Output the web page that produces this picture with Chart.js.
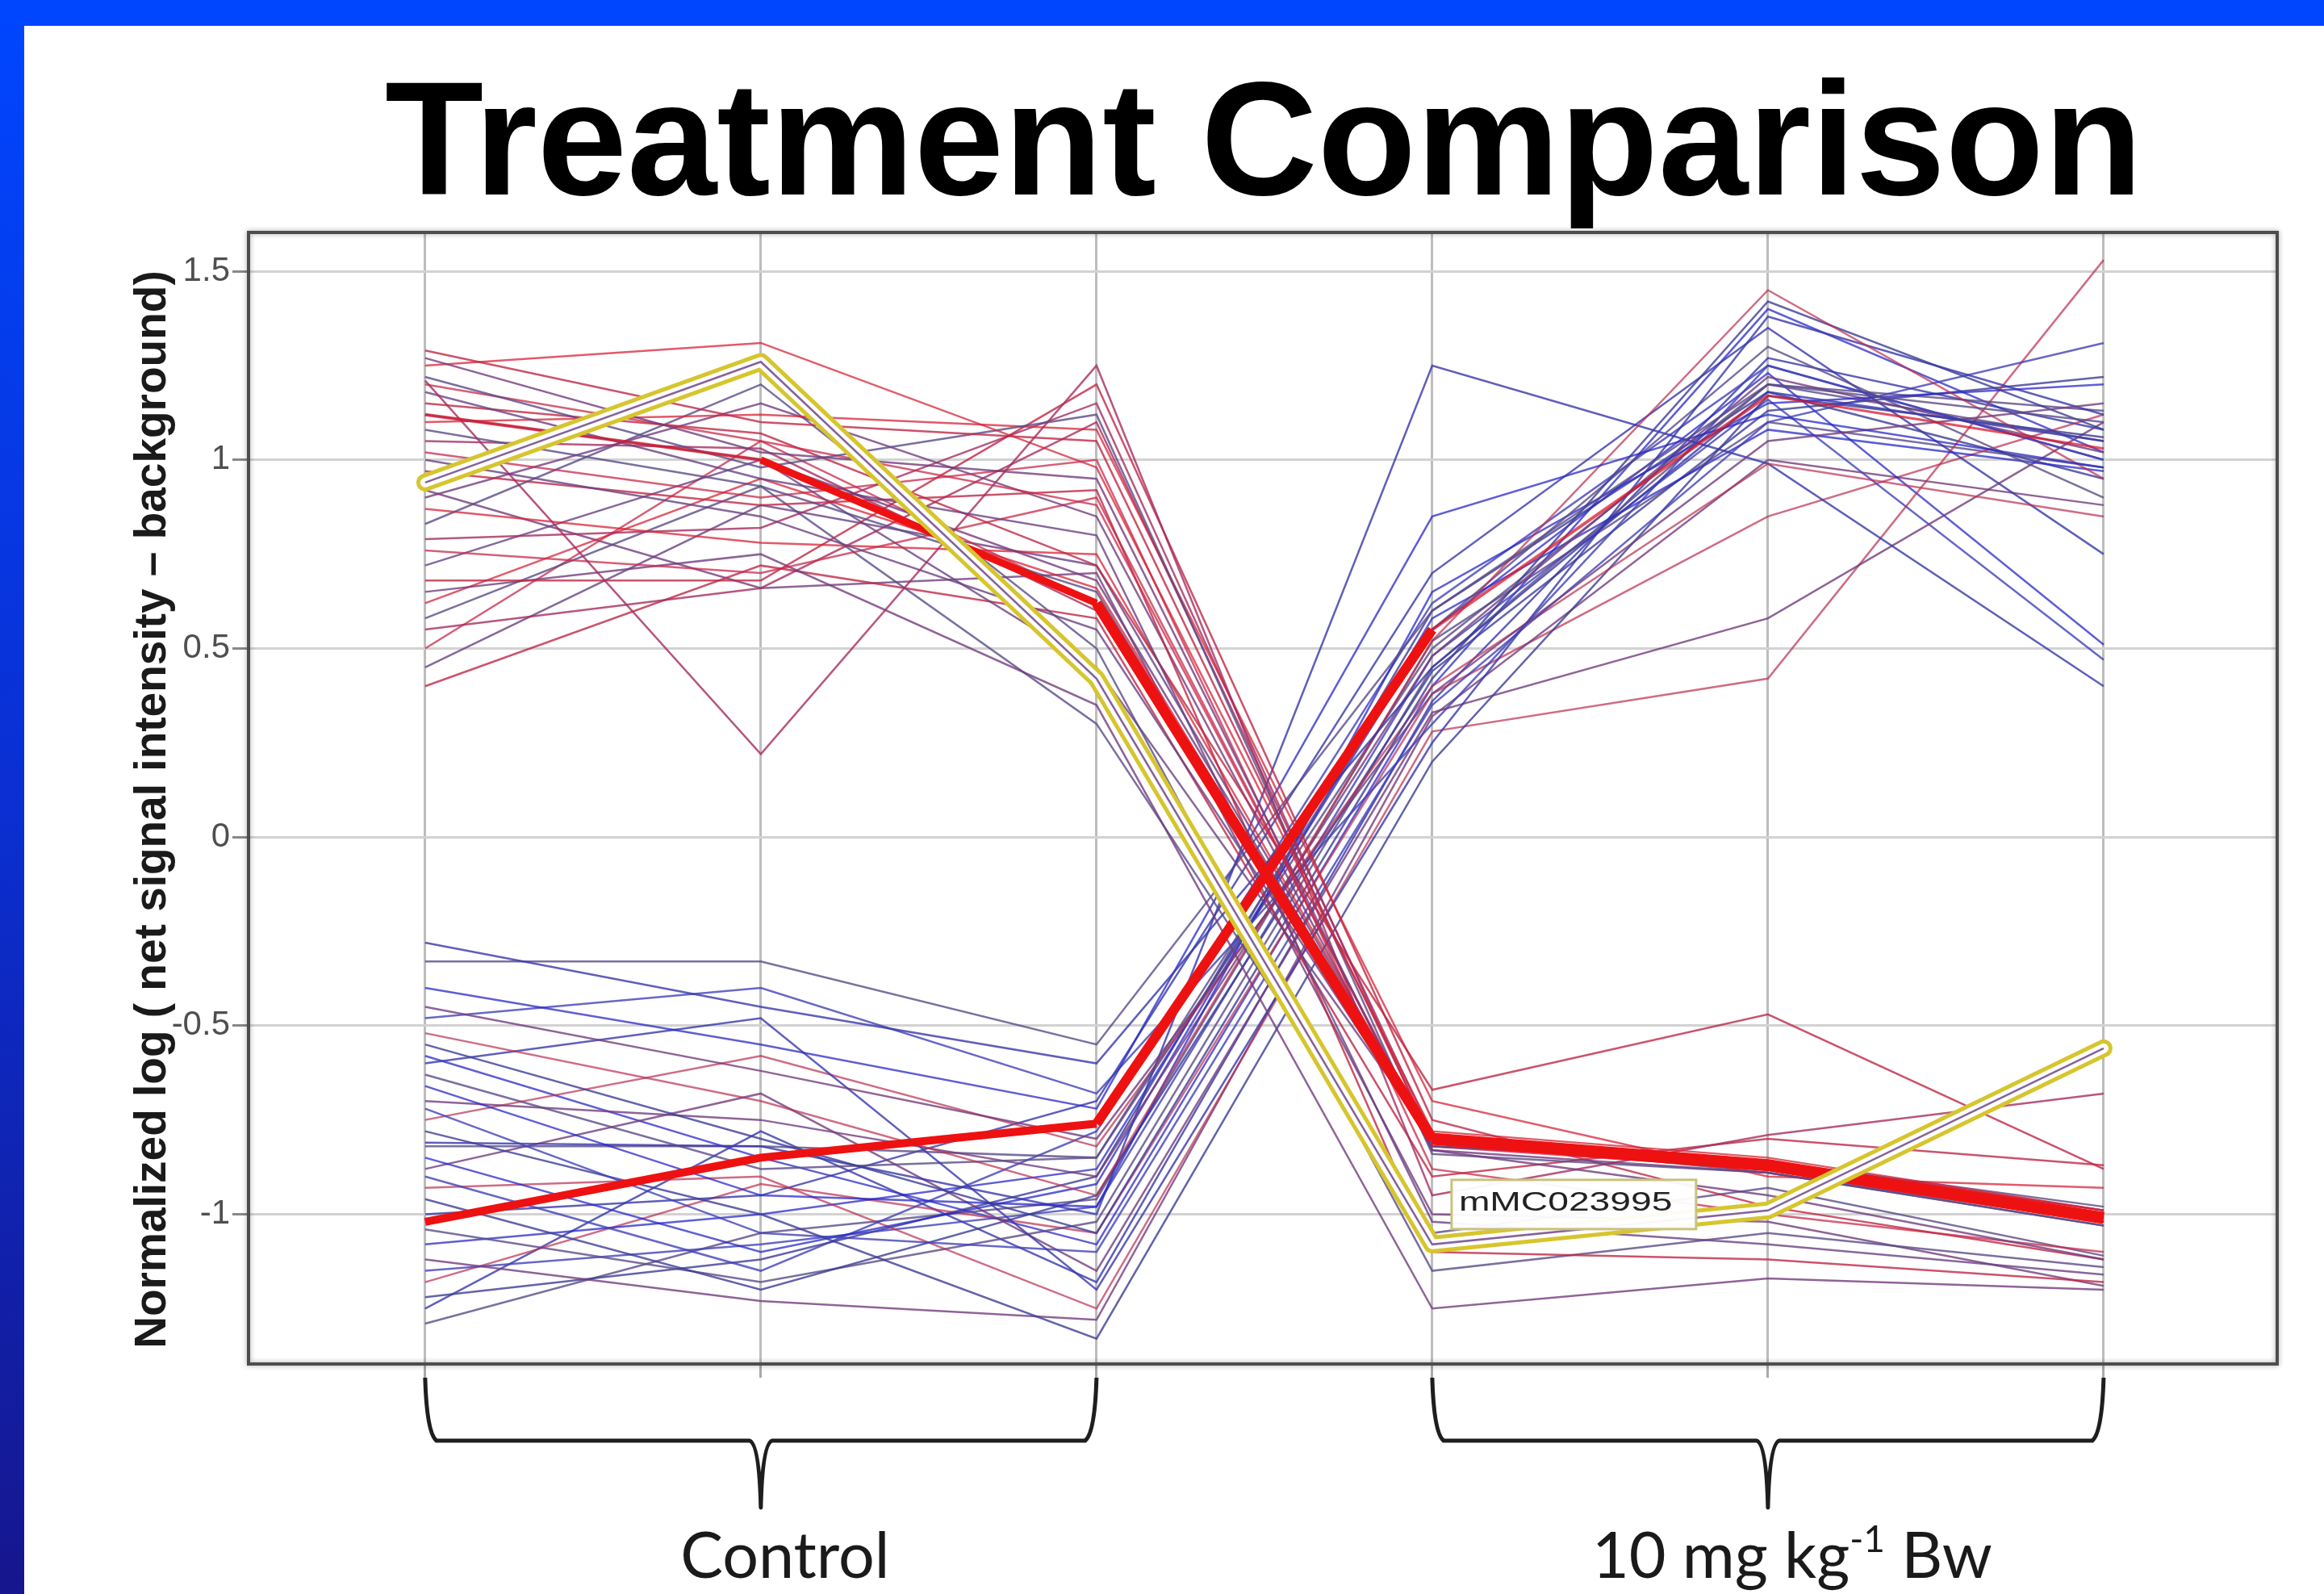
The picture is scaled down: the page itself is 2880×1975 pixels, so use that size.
<!DOCTYPE html>
<html>
<head>
<meta charset="utf-8">
<title>Treatment Comparison</title>
<script src="https://cdn.jsdelivr.net/npm/chart.js@4.4.1/dist/chart.umd.min.js"></script>
<style>
  html, body { margin: 0; padding: 0; background: #fff; }
  #wrap { position: relative; width: 2880px; height: 1975px; }
</style>
</head>
<body>
<div id="wrap"><canvas id="chart"></canvas></div>
<script>
// Expression profiles: normalized log signal for 3 control + 3 treated arrays.
// Values read off the slide by eye, so treat them as approximate.

const TITLE = 'Treatment Comparison';
const Y_TITLE = 'Normalized log ( net signal intensity \u2013 background)';
const SAMPLES = [1, 2, 3, 4, 5, 6];
const GROUPS = ['Control', '10 mg kg^-1 Bw'];
const GROUP_SPANS = [[1, 3], [4, 6]];
const Y_TICKS = [-1, -0.5, 0, 0.5, 1, 1.5];
const HIGHLIGHT_NAME = 'mMC023995';

// probes that drop in the treated group
const DOWN = [
  [1.29, 1.10, 1.05, -0.80, -0.87, -1.00],
  [1.27, 1.02, 0.95, -0.83, -0.95, -1.12],
  [1.25, 1.31, 0.98, -0.78, -0.85, -0.99],
  [1.22, 0.98, 1.12, -0.84, -0.89, -1.03],
  [1.21, 0.22, 1.25, -0.95, -0.79, -0.68],
  [1.20, 1.05, 0.88, -0.81, -0.86, -1.01],
  [1.18, 0.95, 0.80, -1.02, -1.08, -1.16],
  [1.15, 1.07, 0.72, -0.67, -0.47, -0.88],
  [1.12, 1.00, 0.68, -0.80, -0.87, -1.02],
  [1.10, 1.12, 1.08, -0.70, -0.90, -0.93],
  [1.08, 0.93, 0.65, -0.82, -0.86, -0.98],
  [1.05, 1.03, 0.60, -0.80, -0.88, -1.01],
  [1.02, 0.90, 1.00, -0.88, -1.00, -1.10],
  [1.00, 0.85, 0.55, -0.81, -0.87, -1.00],
  [0.97, 0.88, 0.92, -1.10, -1.12, -1.18],
  [0.90, 1.15, 0.85, -0.83, -0.89, -1.02],
  [0.87, 0.78, 0.75, -0.80, -0.86, -0.99],
  [0.83, 1.20, 0.50, -1.15, -1.05, -1.14],
  [0.79, 0.82, 1.15, -0.81, -0.88, -1.01],
  [0.76, 0.70, 0.90, -0.82, -0.87, -1.00],
  [0.72, 1.00, 0.45, -0.80, -0.89, -1.03],
  [0.68, 0.68, 1.20, -0.75, -0.98, -1.12],
  [0.65, 0.75, 0.35, -1.25, -1.17, -1.20],
  [0.62, 0.95, 0.66, -0.81, -0.86, -1.00],
  [0.58, 0.93, 0.30, -1.05, -0.93, -1.11],
  [0.55, 0.66, 1.10, -0.79, -0.87, -1.02],
  [0.50, 1.05, 0.62, -0.82, -0.88, -1.01],
  [0.45, 0.88, 0.72, -0.80, -0.86, -0.99],
  [0.40, 0.72, 0.58, -0.90, -0.80, -0.87],
  [0.92, 0.66, 0.70, -1.00, -1.02, -1.19],
];

// probes that rise in the treated group
const UP = [
  [-0.28, -0.45, -0.60, 0.45, 1.18, 1.05],
  [-0.33, -0.33, -0.55, 0.60, 1.20, 1.10],
  [-0.40, -0.55, -0.72, 0.85, 1.12, 0.98],
  [-0.45, -0.62, -0.80, 0.38, 1.05, 1.15],
  [-0.48, -0.40, -0.68, 0.30, 1.25, 1.00],
  [-0.52, -0.70, -0.95, 0.52, 1.45, 0.95],
  [-0.55, -0.80, -1.05, 0.42, 1.42, 1.08],
  [-0.60, -0.48, -1.20, 0.25, 1.38, 1.12],
  [-0.63, -0.88, -0.85, 0.55, 1.30, 0.90],
  [-0.66, -0.95, -0.98, 0.65, 1.15, 1.20],
  [-0.70, -0.75, -0.90, 0.48, 1.22, 1.02],
  [-0.72, -1.05, -1.10, 0.35, 1.10, 1.31],
  [-0.75, -0.58, -0.82, 0.40, 0.99, 0.85],
  [-0.78, -1.00, -1.33, 0.20, 1.17, 1.06],
  [-0.81, -0.82, -1.00, 1.25, 0.99, 0.40],
  [-0.82, -0.82, -0.85, 0.50, 1.20, 1.13],
  [-0.85, -1.10, -0.92, 0.58, 1.08, 0.97],
  [-0.88, -0.68, -1.15, 0.33, 0.58, 1.10],
  [-0.90, -1.15, -0.78, 0.62, 1.25, 1.00],
  [-0.93, -0.90, -1.25, 0.28, 0.42, 1.53],
  [-0.96, -1.20, -0.95, 0.44, 1.13, 1.22],
  [-1.00, -0.95, -0.70, 0.70, 1.35, 0.75],
  [-1.04, -1.18, -1.02, 0.45, 1.20, 1.05],
  [-1.08, -1.00, -0.88, 0.55, 1.23, 0.51],
  [-1.12, -1.23, -1.28, 0.32, 1.00, 0.88],
  [-1.15, -1.08, -0.98, 0.48, 1.16, 0.47],
  [-1.18, -0.92, -1.05, 0.38, 0.85, 1.12],
  [-1.22, -1.12, -0.90, 0.60, 1.18, 0.95],
  [-1.25, -0.78, -1.18, 0.36, 1.27, 1.08],
  [-1.29, -1.05, -0.96, 0.52, 1.10, 0.98],
  [-0.58, -0.85, -1.08, 0.40, 1.40, 1.02],
];

const DOWN_MEAN = [1.12, 1.00, 0.62, -0.80, -0.87, -1.01];
const UP_MEAN = [-1.02, -0.85, -0.76, 0.55, 1.17, 1.03];
const HIGHLIGHT = [0.94, 1.26, 0.42, -1.08, -0.99, -0.56];

const DOWN_COLORS = ['rgba(190,40,70,0.8)', 'rgba(115,60,125,0.8)', 'rgba(215,35,55,0.75)',
  'rgba(90,75,135,0.8)', 'rgba(165,45,95,0.8)', 'rgba(200,40,75,0.75)', 'rgba(105,65,130,0.8)'];
const UP_COLORS = ['rgba(55,55,170,0.8)', 'rgba(90,75,135,0.8)', 'rgba(40,40,200,0.75)',
  'rgba(115,60,125,0.8)', 'rgba(65,65,185,0.8)', 'rgba(185,45,80,0.7)', 'rgba(60,60,150,0.8)'];

// stroke width of each segment of the two thick red profiles
const DOWN_MEAN_W = [4, 9, 13, 15, 15];
const UP_MEAN_W = [10, 10, 12, 4, 3];

function pts(vals) { return vals.map((v, i) => ({ x: SAMPLES[i], y: v })); }

function thin(vals, color) {
  return { data: pts(vals), borderColor: color, borderWidth: 2.5, order: 5 };
}

function thick(vals, widths) {
  return {
    data: pts(vals), borderColor: '#ee1111', borderWidth: widths[0], borderJoinStyle: 'round', order: 4,
    segment: {
      borderWidth: c => widths[c.p0DataIndex],
      borderColor: c => widths[c.p0DataIndex] < 6 ? 'rgba(215,25,45,0.75)' : '#ee1111',
    },
  };
}

const datasets = [
  ...DOWN.map((v, i) => thin(v, DOWN_COLORS[i % DOWN_COLORS.length])),
  ...UP.map((v, i) => thin(v, UP_COLORS[i % UP_COLORS.length])),
  thick(DOWN_MEAN, DOWN_MEAN_W),
  thick(UP_MEAN, UP_MEAN_W),
  { data: pts(HIGHLIGHT), borderColor: '#d6c52e', borderWidth: 22, borderCapStyle: 'round', borderJoinStyle: 'round', order: 3 },
  { data: pts(HIGHLIGHT), borderColor: '#ffffff', borderWidth: 12, borderCapStyle: 'round', borderJoinStyle: 'round', order: 2 },
  { data: pts(HIGHLIGHT), borderColor: 'rgba(110,70,140,0.85)', borderWidth: 2.5, order: 1 },
];

function drawBrace(ctx, x0, x1, yTop, yMid, yTip) {
  const xc = (x0 + x1) / 2;
  ctx.beginPath();
  ctx.moveTo(x0, yTop);
  ctx.quadraticCurveTo(x0 + 2, yMid - 10, x0 + 14, yMid);
  ctx.lineTo(xc - 14, yMid);
  ctx.quadraticCurveTo(xc - 2, yMid + 4, xc, yTip);
  ctx.quadraticCurveTo(xc + 2, yMid + 4, xc + 14, yMid);
  ctx.lineTo(x1 - 14, yMid);
  ctx.quadraticCurveTo(x1 - 2, yMid - 10, x1, yTop);
  ctx.stroke();
}

function drawGroupLabel(ctx, label, cx, baseline) {
  const main = '79px Lato', sup = '46px Lato';
  const [head, tail] = label.split('^');
  if (tail === undefined) {
    ctx.font = main; ctx.textAlign = 'center';
    ctx.fillText(head, cx, baseline);
    return;
  }
  const cut = tail.indexOf(' ');
  const supTxt = tail.slice(0, cut), rest = tail.slice(cut);
  ctx.font = main; const w1 = ctx.measureText(head).width, w3 = ctx.measureText(rest).width;
  ctx.font = sup; const w2 = ctx.measureText(supTxt).width;
  let x = cx - (w1 + w2 + w3) / 2;
  ctx.textAlign = 'left';
  ctx.font = main; ctx.fillText(head, x, baseline); x += w1;
  ctx.font = sup; ctx.fillText(supTxt, x, baseline - 32); x += w2;
  ctx.font = main; ctx.fillText(rest, x, baseline);
}

const slideFrame = {
  id: 'slideFrame',
  beforeDraw(chart) {
    const { ctx, width, height } = chart;
    ctx.save();
    ctx.fillStyle = '#ffffff';
    ctx.fillRect(0, 0, width, height);
    const g = ctx.createLinearGradient(0, 0, 0, height);
    g.addColorStop(0, '#0046ff');
    g.addColorStop(0.5, '#0a2fd2');
    g.addColorStop(1, '#16168e');
    ctx.fillStyle = g;
    ctx.fillRect(0, 0, 30, height);
    ctx.fillStyle = '#0046ff';
    ctx.fillRect(0, 0, width, 32);
    ctx.restore();
  },
  afterDraw(chart) {
    const { ctx, chartArea: a, scales: { x, y } } = chart;
    ctx.save();

    // plot frame
    ctx.shadowColor = 'rgba(0,0,0,0.35)';
    ctx.shadowBlur = 6;
    ctx.strokeStyle = '#4d4d4d';
    ctx.lineWidth = 4;
    ctx.strokeRect(a.left, a.top, a.right - a.left, a.bottom - a.top);
    ctx.shadowColor = 'transparent';

    // slide title
    ctx.fillStyle = '#000';
    ctx.font = 'bold 200px "Liberation Sans"';
    ctx.textAlign = 'center';
    ctx.textBaseline = 'alphabetic';
    ctx.fillText(TITLE, 1566, 241);

    // y axis title
    ctx.save();
    ctx.translate(205, (a.top + a.bottom) / 2 + 14);
    ctx.rotate(-Math.PI / 2);
    ctx.font = 'bold 55px "Liberation Sans"';
    ctx.fillStyle = '#1a1a1a';
    ctx.fillText(Y_TITLE, 0, 0);
    ctx.restore();

    // label for the highlighted probe
    const px = x.getPixelForValue(SAMPLES[3]), py = y.getPixelForValue(HIGHLIGHT[3]);
    const bx = px + 24, by = py - 80;
    ctx.fillStyle = 'rgba(255,255,255,0.95)';
    ctx.fillRect(bx, by, 303, 61);
    ctx.strokeStyle = '#c9c27c';
    ctx.lineWidth = 3;
    ctx.strokeRect(bx, by, 303, 61);
    ctx.save();
    ctx.translate(bx + 9, by + 38);
    ctx.scale(1.4, 1);
    ctx.font = '33px "Liberation Sans"';
    ctx.fillStyle = '#222';
    ctx.textAlign = 'left';
    ctx.fillText(HIGHLIGHT_NAME, 0, 0);
    ctx.restore();

    // group braces and labels
    ctx.strokeStyle = '#1e1e1e';
    ctx.fillStyle = '#1a1a1a';
    ctx.lineWidth = 5;
    ctx.lineJoin = 'round';
    GROUP_SPANS.forEach(([s0, s1], i) => {
      const x0 = x.getPixelForValue(s0), x1 = x.getPixelForValue(s1);
      drawBrace(ctx, x0, x1, a.bottom + 17, a.bottom + 95, a.bottom + 178);
      drawGroupLabel(ctx, GROUPS[i], (x0 + x1) / 2 + 30, a.bottom + 265);
    });
    ctx.restore();
  },
};

new Chart(document.getElementById('chart').getContext('2d'), {
  type: 'line',
  data: { datasets },
  options: {
    animation: false,
    responsive: true,
    maintainAspectRatio: false,
    layout: { padding: { left: 158, top: 288, right: 58, bottom: 268 } },
    elements: { point: { radius: 0 }, line: { tension: 0, fill: false } },
    plugins: { legend: { display: false }, tooltip: { enabled: false }, title: { display: false } },
    scales: {
      x: {
        type: 'linear', min: 0.474, max: 6.517,
        afterBuildTicks: s => { s.ticks = SAMPLES.map(v => ({ value: v })); },
        afterFit: s => { s.height = 17; },
        ticks: { display: false },
        grid: { color: '#bdbdbd', lineWidth: 3, tickLength: 17, tickColor: '#aaaaaa' },
        border: { display: false },
      },
      y: {
        type: 'linear', min: -1.397, max: 1.603,
        afterBuildTicks: s => { s.ticks = Y_TICKS.map(v => ({ value: v })); },
        afterFit: s => { s.width = 150; },
        ticks: { color: '#4f4f4f', font: { family: 'Liberation Sans', size: 42 }, padding: 3, callback: v => String(v) },
        grid: { color: '#d2d2d2', lineWidth: 3, tickLength: 20, tickColor: '#888888' },
        border: { display: false },
      },
    },
  },
  plugins: [slideFrame],
});
</script>
</body>
</html>
